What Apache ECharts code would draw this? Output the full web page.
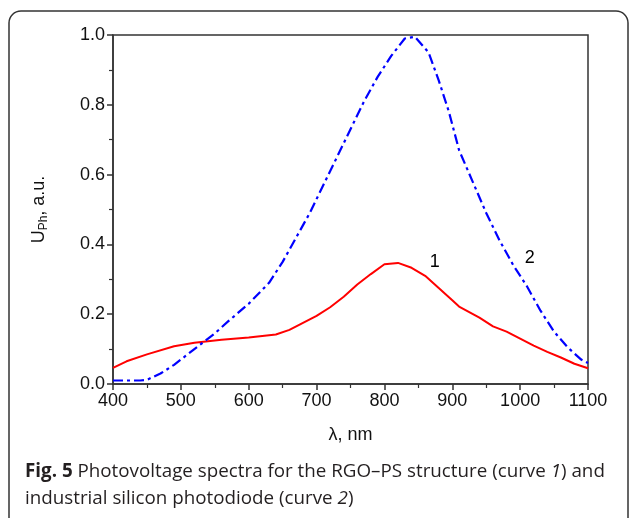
<!DOCTYPE html>
<html><head><meta charset="utf-8">
<script src="https://cdn.jsdelivr.net/npm/echarts@6/dist/echarts.min.js"></script>
<style>html,body{margin:0;padding:0;background:#fff}#c{width:630px;height:518px}</style>
</head><body><div id="c"></div>
<script>
const curve1X = [400,420,450,490,520,560,600,640,660,680,700,720,740,760,780,800,820,840,860,880,900,910,940,960,980,1000,1020,1040,1060,1080,1100];
const curve1Y = [0.046,0.065,0.085,0.108,0.118,0.127,0.133,0.142,0.155,0.175,0.195,0.22,0.25,0.285,0.315,0.343,0.347,0.333,0.31,0.275,0.24,0.222,0.19,0.165,0.15,0.13,0.11,0.092,0.076,0.058,0.045];
const curve2X = [400,420,440,450,470,490,510,530,550,570,600,630,650,670,690,710,730,750,770,790,810,830,845,865,880,895,910,930,950,970,990,1010,1030,1050,1070,1090,1100];
const curve2Y = [0.01,0.01,0.01,0.012,0.03,0.055,0.085,0.115,0.145,0.18,0.23,0.29,0.35,0.42,0.49,0.57,0.65,0.73,0.81,0.88,0.94,0.99,0.995,0.95,0.87,0.78,0.67,0.58,0.49,0.41,0.34,0.28,0.21,0.15,0.105,0.07,0.06];
const xTicks = [400,1100,100];
const yTicks = [0,1,0.2];
const curveLabelNames = ['1','2'];
const curveLabelX = [874,1014];
const curveLabelY = [0.35,0.36];

const zip = (a,b)=>a.map((v,i)=>[v,b[i]]);
const chart = echarts.init(document.getElementById('c'));
const axFont = 'Arial';
chart.setOption({
  animation:false,
  textStyle:{fontFamily:axFont},
  grid:{left:113,right:42,top:35,bottom:134,show:true,borderColor:'#333',borderWidth:1.5},
  xAxis:{type:'value',min:xTicks[0],max:xTicks[1],interval:xTicks[2],
    name:'λ, nm',nameLocation:'middle',nameGap:42,
    nameTextStyle:{fontFamily:axFont,fontSize:18,color:'#111'},
    axisLine:{lineStyle:{color:'#333',width:1.5}},
    axisTick:{inside:false,length:6,lineStyle:{color:'#333',width:1.5}},
    minorTick:{show:true,splitNumber:2,length:4,lineStyle:{color:'#333',width:1.2}},
    splitLine:{show:false},
    axisLabel:{fontFamily:axFont,fontSize:18,color:'#111',margin:8,formatter:v=>String(v)}},
  yAxis:{type:'value',min:yTicks[0],max:yTicks[1],interval:yTicks[2],
    name:'{a|U}{b|Ph}{a|, a.u.}',nameLocation:'middle',nameGap:63,nameRotate:90,
    nameTextStyle:{rich:{a:{fontFamily:axFont,fontSize:18,color:'#111',lineHeight:22},b:{fontFamily:axFont,fontSize:12,color:'#111',lineHeight:22,padding:[10,0,0,0]}}},
    axisLine:{lineStyle:{color:'#333',width:1.5}},
    axisTick:{inside:false,length:6,lineStyle:{color:'#333',width:1.5}},
    minorTick:{show:true,splitNumber:2,length:4,lineStyle:{color:'#333',width:1.2}},
    splitLine:{show:false},
    axisLabel:{fontFamily:axFont,fontSize:18,color:'#111',margin:8,formatter:v=>v.toFixed(1)}},
  series:[
    {type:'line',data:zip(curve1X,curve1Y),showSymbol:false,symbol:'none',lineStyle:{color:'#ff0000',width:2}},
    {type:'line',data:zip(curve2X,curve2Y),showSymbol:false,symbol:'none',lineStyle:{color:'#0000ff',width:2.2,type:[10,4,3,4]}},
    {type:'scatter',data:curveLabelX.map((x,i)=>({value:[x,curveLabelY[i]],name:curveLabelNames[i]})),symbolSize:1,itemStyle:{color:'rgba(0,0,0,0)'},
     silent:true,label:{show:true,position:'inside',formatter:p=>p.name,fontFamily:axFont,fontSize:18,color:'#000',opacity:1}}
  ],
  graphic:[
    {type:'rect',shape:{x:9,y:11,width:619,height:520,r:12},style:{fill:'none',stroke:'#333',lineWidth:1.5},silent:true},
    {type:'text',left:25,top:458,style:{text:'{b|Fig. 5} Photovoltage spectra for the RGO–PS structure (curve {i|1}) and\nindustrial silicon photodiode (curve {i|2})',
      font:'18.8px "Open Sans"',fill:'#231f20',lineHeight:27,
      rich:{b:{fontFamily:'Open Sans',fontWeight:'bold',fontSize:18.8,fill:'#231f20',lineHeight:27},i:{fontFamily:'Open Sans',fontStyle:'italic',fontSize:18.8,fill:'#231f20',lineHeight:27}}}}
  ]
});
</script></body></html>
